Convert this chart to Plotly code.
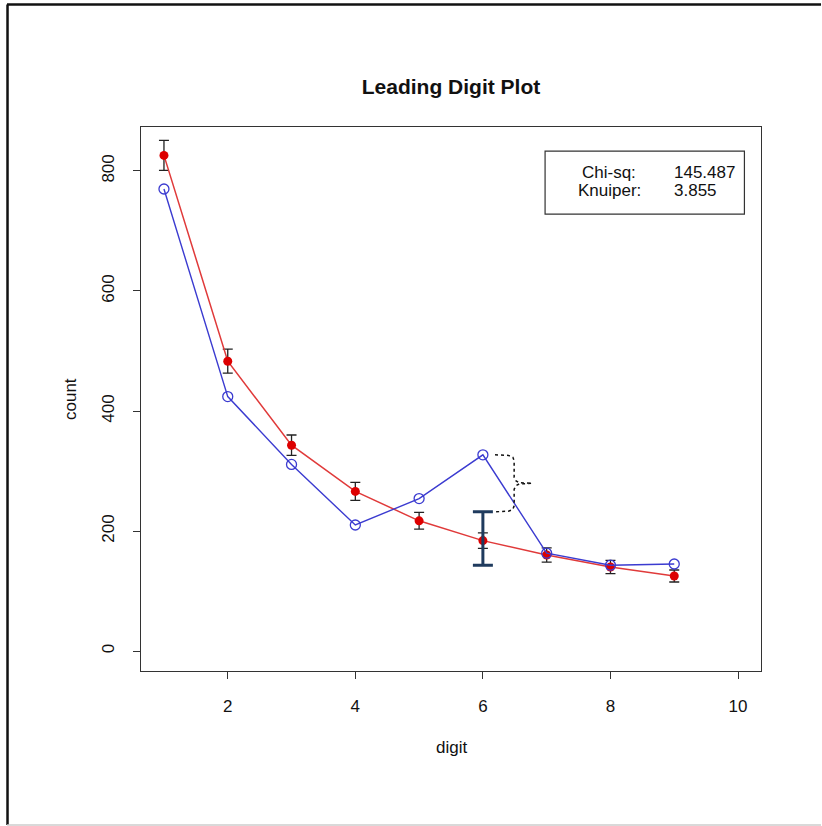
import plotly.graph_objects as go

digits = [1, 2, 3, 4, 5, 6, 7, 8, 9]
expected = [826, 483, 343, 266, 217, 184, 160, 140, 125]
expected_err = [25, 20, 17, 15, 14, 13, 12, 11, 10]
observed = [770, 424, 311, 210, 254, 327, 163, 143, 145]

big_bar_x = [6]
big_bar_center = [184]
big_bar_hi = [232]
big_bar_lo = [143]

stat_labels = ["Chi-sq:", "Knuiper:"]
stat_values = ["145.487", "3.855"]

x_ticks = [2, 4, 6, 8, 10]
y_ticks = [0, 200, 400, 600, 800]

FONT = "Liberation Sans, Arial, sans-serif"

fig = go.Figure()

# expected (red) with error bars
fig.add_trace(go.Scatter(
    x=digits, y=expected, mode="lines+markers",
    line=dict(color="#e03a3a", width=1.5),
    marker=dict(color="#dd0000", size=9, symbol="circle"),
    error_y=dict(type="data", array=expected_err, color="#222222", thickness=1.3, width=5),
    hoverinfo="skip", showlegend=False))

# observed (blue) open circles
fig.add_trace(go.Scatter(
    x=digits, y=observed, mode="lines+markers",
    line=dict(color="#3b3bd0", width=1.4),
    marker=dict(color="#3b3bd0", size=10, symbol="circle-open", line=dict(width=1.3)),
    hoverinfo="skip", showlegend=False))

# big highlighted error bar at digit 6
fig.add_trace(go.Scatter(
    x=big_bar_x, y=big_bar_center, mode="markers",
    marker=dict(size=1, opacity=0),
    error_y=dict(type="data", symmetric=False,
                 array=[h - c for h, c in zip(big_bar_hi, big_bar_center)],
                 arrayminus=[c - l for c, l in zip(big_bar_center, big_bar_lo)],
                 color="#1f3b5e", thickness=3, width=10),
    hoverinfo="skip", showlegend=False))

# dotted curly brace between observed at 6 and top of big error bar
top = observed[5]
bot = big_bar_hi[0]
mid = (top + bot) / 2
brace_x = [6.19, 6.40, 6.47, 6.49, 6.49, 6.52, 6.57, 6.77, 6.57, 6.52, 6.49, 6.49, 6.47, 6.40, 6.19]
brace_y = [top, top - 1, top - 4, top - 10, mid + 10, mid + 4, mid + 1, mid, mid - 1, mid - 4, mid - 10, bot + 10, bot + 4, bot + 1, bot]
fig.add_trace(go.Scatter(
    x=brace_x, y=brace_y, mode="lines", line=dict(color="#111111", width=1.5, dash="dot"),
    hoverinfo="skip", showlegend=False))

# legend box with statistics
fig.add_shape(type="rect", xref="x", yref="y", x0=6.975, x1=10.10, y0=728, y1=833,
              line=dict(color="#333333", width=1.2), fillcolor="white", layer="above")
rows_y = [798, 768]
for lab, val, yy in zip(stat_labels, stat_values, rows_y):
    fig.add_annotation(x=7.98, y=yy, xref="x", yref="y", text=lab, showarrow=False,
                       xanchor="center", yanchor="middle", font=dict(family=FONT, size=17, color="#111111"))
    fig.add_annotation(x=8.96, y=yy, xref="x", yref="y", text=val, showarrow=False,
                       xanchor="left", yanchor="middle", font=dict(family=FONT, size=17, color="#111111"))

# axis titles
fig.add_annotation(x=0.5, y=0, xref="paper", yref="paper", yshift=-76, text="digit", showarrow=False,
                   xanchor="center", yanchor="middle", font=dict(family=FONT, size=17, color="#111111"))
fig.add_annotation(x=0, y=0.5, xref="paper", yref="paper", xshift=-71, text="count", showarrow=False,
                   textangle=-90, xanchor="center", yanchor="middle", font=dict(family=FONT, size=17, color="#111111"))

# outer image frame
fig.add_shape(type="line", xref="paper", yref="paper", x0=-0.2153, x1=-0.2153, y0=-0.2831, y1=1.2252,
              line=dict(color="#111111", width=2.5))
fig.add_shape(type="line", xref="paper", yref="paper", x0=-0.2161, x1=1.0968, y0=1.2252, y1=1.2252,
              line=dict(color="#111111", width=2.5))
fig.add_shape(type="line", xref="paper", yref="paper", x0=-0.2161, x1=1.0968, y0=-0.2831, y1=-0.2831,
              line=dict(color="#cccccc", width=1.5))

fig.update_layout(
    width=822, height=826,
    margin=dict(l=141, r=61, t=127, b=155),
    paper_bgcolor="white", plot_bgcolor="white",
    title=dict(text="<b>Leading Digit Plot</b>", x=451 / 822, xanchor="center",
               y=1 - 87 / 826, yanchor="middle", font=dict(family=FONT, size=21, color="#111111")),
    font=dict(family=FONT, size=17, color="#111111"),
    xaxis=dict(range=[0.64, 10.36], tickvals=x_ticks, ticktext=[str(v) for v in x_ticks],
               showgrid=False, zeroline=False, showline=True, mirror=True, linecolor="#333333", linewidth=1.3,
               ticks="outside", ticklen=7, tickcolor="#333333", tickwidth=1.3,
               tickfont=dict(family=FONT, size=17, color="#111111"), ticklabelstandoff=12),
    yaxis=dict(range=[-33.3, 873.3], tickvals=y_ticks, ticktext=[str(v) for v in y_ticks],
               showgrid=False, zeroline=False, showline=True, mirror=True, linecolor="#333333", linewidth=1.3,
               ticks="outside", ticklen=7, tickcolor="#333333", tickwidth=1.3, tickangle=-90,
               tickfont=dict(family=FONT, size=17, color="#111111"), ticklabelstandoff=12),
)

fig.write_html("out.html", config={"displayModeBar": False},
               post_script="document.body.style.margin='0px';document.body.style.overflow='hidden';")
